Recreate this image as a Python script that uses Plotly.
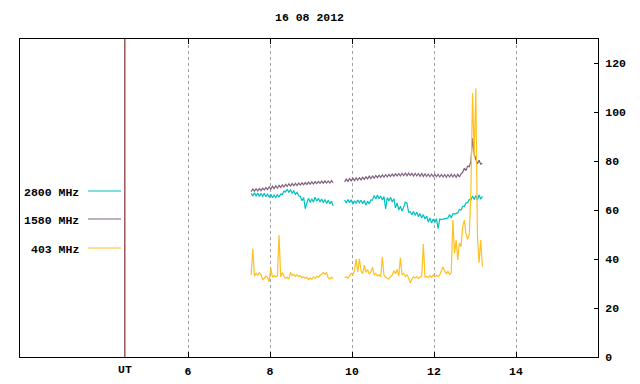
import plotly.graph_objects as go

# ---------------- data ----------------
TITLE = "16 08 2012"
X_TICKS = [6, 8, 10, 12, 14]
Y_TICKS = [0, 20, 40, 60, 80, 100, 120]
UT_POS = 4.46
X_RANGE = [1.902, 16.0]
Y_RANGE = [0, 130]

SERIES_NAMES = ["2800 MHz", "1580 MHz", "403 MHz"]
SERIES_COLORS = ["#00c0c0", "#7f5f7f", "#ffc020"]

T0_A = 7.54   # start of first block (UT hours)
T0_B = 9.82   # start of second block
DT = 0.04     # sampling step (hours)

f2800_a = [66.9, 65.8, 67.1, 65.9, 67.0, 65.6, 66.8, 65.7, 66.9, 65.5, 66.6,
           65.4, 66.5, 65.1, 66.2, 65.2, 66.4, 65.3, 66.6, 66.4, 67.8, 67.5,
           68.6, 67.3, 68.3, 67.0, 67.9, 66.5, 67.3, 65.9, 65.6, 63.9, 65.2,
           60.6, 63.0, 64.9, 63.2, 64.7, 63.3, 65.3, 63.7, 64.9, 63.4, 64.6,
           63.1, 64.4, 62.8, 64.1, 62.6, 63.7, 61.8]
f2800_b = [64.2, 63.0, 64.4, 63.1, 64.3, 62.5, 63.9, 62.8, 64.2, 63.0, 64.1,
           62.7, 64.0, 62.1, 63.7, 62.6, 64.2, 64.1, 66.0, 64.6, 66.2, 64.7,
           65.8, 64.2, 65.6, 60.5, 65.2, 63.8, 65.3, 63.4, 64.7, 61.0, 63.0,
           60.1, 61.6, 59.7, 61.2, 63.3, 62.9, 59.2, 59.4, 58.2, 59.5, 57.9,
           59.2, 57.4, 58.6, 56.9, 58.2, 56.4, 57.6, 55.2, 56.8, 54.8, 56.4,
           55.0, 56.6, 52.5, 56.4, 56.2, 56.4, 56.4, 56.7, 56.8, 58.2, 56.8,
           58.6, 58.4, 58.8, 58.9, 60.3, 60.1, 61.6, 61.6, 63.0, 63.1, 64.4,
           64.2, 65.8, 64.4, 66.0, 64.2, 66.2, 64.5, 65.7]

f1580_a = [67.6, 68.7, 67.8, 68.8, 67.9, 68.9, 68.0, 69.0, 68.3, 69.2, 68.5,
           69.6, 68.6, 69.8, 68.8, 70.0, 69.0, 70.2, 69.3, 70.4, 69.5, 70.6,
           69.7, 70.8, 69.9, 70.9, 70.0, 71.0, 70.1, 71.1, 70.3, 71.2, 70.4,
           71.3, 70.5, 71.5, 70.6, 71.6, 70.7, 71.7, 70.9, 71.8, 71.0, 71.9,
           71.0, 72.0, 71.1, 72.0, 71.1, 72.1, 71.2]
f1580_b = [71.6, 72.7, 71.8, 72.9, 72.0, 73.1, 72.1, 73.2, 72.3, 73.3, 72.4,
           73.5, 72.6, 73.7, 72.8, 73.9, 72.9, 74.0, 73.1, 74.2, 73.3, 74.3,
           73.4, 74.5, 73.5, 74.6, 73.6, 74.7, 73.8, 74.8, 73.9, 74.9, 74.0,
           75.0, 74.0, 75.1, 74.1, 75.2, 74.1, 75.2, 74.2, 75.1, 74.0, 75.1,
           74.0, 75.0, 73.9, 75.0, 73.8, 74.9, 73.8, 74.8, 73.7, 74.8, 73.7,
           74.7, 73.7, 74.7, 73.6, 74.6, 73.6, 74.6, 73.5, 74.6, 73.6, 74.7,
           73.6, 74.6, 73.5, 74.7, 73.6, 74.9, 75.5, 77.2, 76.2, 78.0, 77.8,
           80.0, 89.4, 83.0, 80.8, 79.0, 80.4, 78.8, 79.2]

f403_a = [33.5, 44.2, 33.0, 34.2, 33.4, 34.5, 33.8, 31.6, 32.2, 33.1, 32.5,
          30.8, 36.4, 32.6, 33.3, 32.7, 33.2, 49.9, 32.8, 34.5, 33.0, 32.1,
          32.6, 31.9, 34.6, 33.2, 33.8, 33.0, 33.6, 32.9, 33.2, 32.4, 32.8,
          32.1, 32.6, 31.6, 32.3, 31.8, 32.7, 32.2, 33.0, 32.6, 33.4, 33.8,
          34.6, 33.9, 34.4, 32.3, 31.9, 32.6, 32.1]
f403_b = [32.4, 32.8, 32.2, 33.0, 34.2, 33.6, 35.4, 40.0, 34.8, 40.1, 35.2,
          34.0, 37.6, 34.6, 35.8, 33.9, 34.8, 36.7, 33.6, 34.2, 33.1, 33.6,
          32.8, 41.0, 33.4, 32.6, 32.2, 31.8, 32.9, 33.4, 35.3, 34.0, 35.8,
          33.2, 40.6, 33.6, 34.2, 32.9, 33.5, 32.4, 30.2, 32.0, 32.8, 32.3,
          32.9, 32.1, 32.6, 33.2, 46.2, 32.5, 33.0, 32.4, 33.3, 32.6, 33.5,
          32.8, 33.4, 32.9, 33.6, 34.9, 36.8, 35.2, 34.1, 35.0, 33.8, 34.4,
          56.0, 42.4, 47.8, 39.7, 46.6, 45.2, 53.3, 56.0, 50.4, 48.2, 50.0,
          68.0, 107.8, 82.0, 109.9, 49.0, 38.5, 47.8, 37.0]

SERIES_A = [f2800_a, f1580_a, f403_a]
SERIES_B = [f2800_b, f1580_b, f403_b]

# ---------------- layout geometry (pixels) ----------------
W, H = 640, 384
L, R, T, B = 20, 42, 39, 27
PW, PH = W - L - R, H - T - B


def px_x(x):
    return (x - L) / PW


def px_y(y):
    return (H - B - y) / PH


FONT = dict(family="Liberation Mono, DejaVu Sans Mono, monospace",
            size=11.5, color="black", weight="bold")

fig = go.Figure()
for name, color, va, vb in zip(SERIES_NAMES, SERIES_COLORS, SERIES_A, SERIES_B):
    ta = [round(T0_A + DT * i, 3) for i in range(len(va))]
    tb = [round(T0_B + DT * i, 3) for i in range(len(vb))]
    fig.add_trace(go.Scatter(
        x=ta + [None] + tb, y=va + [None] + vb, mode="lines", name=name,
        line=dict(color=color, width=1.2), showlegend=False,
        connectgaps=False, hoverinfo="skip"))

shapes = [dict(type="line", xref="x", yref="paper", x0=UT_POS, x1=UT_POS,
               y0=0, y1=1, line=dict(color="#6a0000", width=1))]
annotations = [
    dict(text=TITLE, xref="paper", yref="paper", x=0.5, y=px_y(18),
         xanchor="center", yanchor="middle", showarrow=False, font=FONT),
    dict(text="UT", xref="x", yref="paper", x=UT_POS, y=px_y(369),
         xanchor="center", yanchor="middle", showarrow=False, font=FONT),
]
legend_y = [192, 220, 249]
for name, color, ly in zip(SERIES_NAMES, SERIES_COLORS, legend_y):
    annotations.append(dict(text=name, xref="paper", yref="paper",
                            x=px_x(81), y=px_y(ly), xanchor="right",
                            yanchor="middle", showarrow=False, font=FONT))
    shapes.append(dict(type="line", xref="paper", yref="paper",
                       x0=px_x(88), x1=px_x(121), y0=px_y(ly - 1),
                       y1=px_y(ly - 1), line=dict(color=color, width=1)))

fig.update_layout(
    width=W, height=H,
    margin=dict(l=L, r=R, t=T, b=B, pad=0, autoexpand=False),
    paper_bgcolor="white", plot_bgcolor="white",
    font=FONT, shapes=shapes, annotations=annotations,
    showlegend=False,
)
fig.update_xaxes(
    range=X_RANGE, tickvals=X_TICKS, ticktext=[str(v) for v in X_TICKS],
    ticks="inside", ticklen=5, tickcolor="black", tickwidth=1,
    showline=True, linecolor="black", linewidth=1, mirror="ticks",
    showgrid=True, gridcolor="#a0a0a0", griddash="dot", gridwidth=1,
    zeroline=False, ticklabelstandoff=3, tickfont=FONT, automargin=False,
)
fig.update_yaxes(
    range=Y_RANGE, tickvals=Y_TICKS, side="right",
    ticks="inside", ticklen=4, tickcolor="black", tickwidth=1,
    showline=True, linecolor="black", linewidth=1, mirror=True,
    showgrid=False, zeroline=False, ticklabelstandoff=4, tickfont=FONT,
    automargin=False,
)

fig.write_html("out.html",
               config={"displayModeBar": False},
               post_script="document.body.style.margin='0';")
